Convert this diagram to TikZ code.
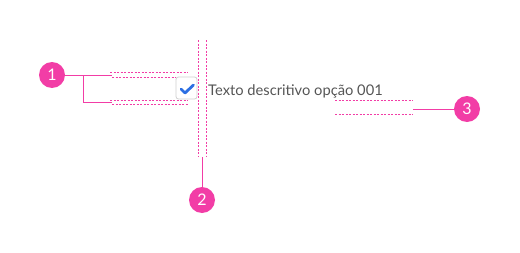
\documentclass[tikz,border=0pt]{standalone}
\usepackage{fontspec}
\setmainfont{Lato}

\definecolor{marker}{HTML}{F23DA6}
\definecolor{checkblue}{HTML}{2C6FE3}
\definecolor{boxgray}{HTML}{D0D0D0}
\definecolor{textgray}{HTML}{555555}

\tikzset{
  badge/.style={circle, fill=marker, minimum size=26pt, inner sep=0pt,
    text=white, font=\fontsize{16}{16}\selectfont},
  leader/.style={marker, line width=1pt},
  guide/.style={marker, line width=1pt, dash pattern=on 2pt off 1.5pt},
}

\begin{document}
\begin{tikzpicture}[x=1pt,y=-1pt]
  \useasboundingbox (0,0) rectangle (520,252);

  % Draw the checkbox and its label
  \node[draw=boxgray, line width=0.8pt, rounded corners=2.5pt,
    minimum width=21pt, minimum height=22pt, inner sep=0pt] (box) at (186.5,88) {};
  \draw[checkblue, line width=2.8pt, line cap=round, line join=round]
    (181,89) -- (185,93) -- (193.5,85);
  \node[anchor=base west, inner sep=0pt, text=textgray,
    font=\fontsize{14.7}{14.7}\selectfont] (label) at (208,95) {Texto descritivo opção 001};

  % Dotted spacing guides
  \draw[guide] (110,72) -- (188,72);
  \draw[guide] (112,77) -- (box.north west |- 0,77);
  \draw[guide] (110,100) -- (188,100);
  \draw[guide] (112,104) -- (188,104);
  \draw[guide] (198,40) -- (198,157);
  \draw[guide] (206,40) -- (206,157);
  \draw[guide] (335,100) -- (413,100);
  \draw[guide] (335,114) -- (413,114);

  % Numbered markers
  \node[badge] (n1) at (52,75) {1};
  \node[badge] (n2) at (202,200) {2};
  \node[badge] (n3) at (467,109) {3};

  % Leader lines
  \coordinate (a1) at (112,75);
  \coordinate (k1) at (83,75);
  \coordinate (b1) at (112,102);
  \coordinate (a2) at (202,157);
  \coordinate (a3) at (413,109);
  \draw[leader] (n1) -- (a1);
  \draw[leader] (k1) |- (b1);
  \draw[leader] (a2) -- (n2);
  \draw[leader] (a3) -- (n3);
\end{tikzpicture}
\end{document}
